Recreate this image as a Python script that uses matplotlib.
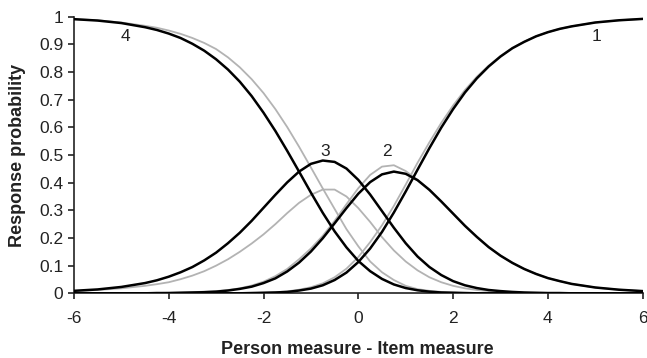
import matplotlib
matplotlib.use("Agg")
import matplotlib.pyplot as plt

plt.rcParams['font.family'] = ['Liberation Sans', 'DejaVu Sans']

# Person measure - Item measure
x = [-6, -5.5, -5, -4.5, -4.25, -4, -3.75, -3.5, -3.25, -3,
     -2.75, -2.5, -2.25, -2, -1.75, -1.5, -1.25, -1, -0.75, -0.5,
     -0.25, 0, 0.25, 0.5, 0.75, 1, 1.25, 1.5, 1.75, 2,
     2.25, 2.5, 2.75, 3, 3.25, 3.5, 3.75, 4, 4.25, 4.5,
     5, 5.5, 6]

# Model (black) category probability curves
model_cat4 = [0.991, 0.986, 0.977, 0.962, 0.952, 0.939, 0.923, 0.902, 0.877, 0.846,
              0.809, 0.765, 0.713, 0.653, 0.587, 0.515, 0.440, 0.364, 0.291, 0.224,
              0.166, 0.117, 0.080, 0.052, 0.032, 0.019, 0.011, 0.006, 0.003, 0.002,
              0.001, 0.000, 0.000, 0.000, 0.000, 0.000, 0.000, 0.000, 0.000, 0.000,
              0.000, 0.000, 0.000]
model_cat3 = [0.009, 0.014, 0.023, 0.037, 0.047, 0.060, 0.076, 0.095, 0.119, 0.147,
              0.181, 0.219, 0.262, 0.309, 0.356, 0.401, 0.440, 0.468, 0.480, 0.475,
              0.451, 0.410, 0.357, 0.297, 0.237, 0.181, 0.133, 0.095, 0.066, 0.044,
              0.029, 0.019, 0.012, 0.008, 0.005, 0.003, 0.002, 0.001, 0.001, 0.000,
              0.000, 0.000, 0.000]
model_cat2 = [0.000, 0.000, 0.000, 0.000, 0.001, 0.001, 0.002, 0.003, 0.004, 0.006,
              0.010, 0.016, 0.024, 0.037, 0.054, 0.079, 0.111, 0.151, 0.199, 0.253,
              0.308, 0.360, 0.402, 0.430, 0.440, 0.432, 0.409, 0.374, 0.332, 0.288,
              0.244, 0.204, 0.167, 0.136, 0.110, 0.088, 0.070, 0.055, 0.044, 0.034,
              0.021, 0.013, 0.008]
model_cat1 = [0.000, 0.000, 0.000, 0.000, 0.000, 0.000, 0.000, 0.000, 0.000, 0.000,
              0.000, 0.000, 0.001, 0.002, 0.003, 0.005, 0.010, 0.017, 0.029, 0.048,
              0.075, 0.113, 0.162, 0.222, 0.292, 0.368, 0.447, 0.525, 0.599, 0.666,
              0.726, 0.777, 0.820, 0.856, 0.886, 0.909, 0.929, 0.944, 0.956, 0.965,
              0.979, 0.987, 0.992]

# Observed / empirical (grey) category probability curves
obs_cat4 = [0.991, 0.987, 0.979, 0.967, 0.960, 0.950, 0.938, 0.923, 0.905, 0.883,
            0.853, 0.817, 0.774, 0.724, 0.666, 0.601, 0.530, 0.455, 0.379, 0.305,
            0.232, 0.170, 0.115, 0.076, 0.048, 0.027, 0.015, 0.009, 0.005, 0.003,
            0.001, 0.001, 0.000, 0.000, 0.000, 0.000, 0.000, 0.000, 0.000, 0.000,
            0.000, 0.000, 0.000]
obs_cat3 = [0.008, 0.012, 0.018, 0.027, 0.033, 0.040, 0.051, 0.064, 0.080, 0.100,
            0.123, 0.150, 0.180, 0.213, 0.250, 0.290, 0.327, 0.356, 0.375, 0.375,
            0.350, 0.308, 0.258, 0.203, 0.155, 0.115, 0.083, 0.058, 0.040, 0.027,
            0.018, 0.012, 0.008, 0.005, 0.003, 0.002, 0.001, 0.001, 0.000, 0.000,
            0.000, 0.000, 0.000]
obs_cat2 = [0.000, 0.000, 0.000, 0.001, 0.001, 0.002, 0.003, 0.004, 0.006, 0.008,
            0.012, 0.018, 0.028, 0.042, 0.062, 0.088, 0.123, 0.162, 0.208, 0.262,
            0.322, 0.380, 0.428, 0.458, 0.463, 0.442, 0.410, 0.374, 0.332, 0.288,
            0.244, 0.204, 0.167, 0.136, 0.110, 0.088, 0.070, 0.055, 0.044, 0.034,
            0.021, 0.013, 0.008]
obs_cat1 = [0.000, 0.000, 0.000, 0.000, 0.000, 0.000, 0.000, 0.000, 0.000, 0.000,
            0.000, 0.000, 0.001, 0.002, 0.004, 0.007, 0.013, 0.022, 0.036, 0.058,
            0.089, 0.131, 0.185, 0.246, 0.316, 0.393, 0.472, 0.546, 0.616, 0.679,
            0.735, 0.783, 0.823, 0.858, 0.887, 0.910, 0.929, 0.944, 0.956, 0.965,
            0.979, 0.987, 0.992]

cat_labels = ["4", "3", "2", "1"]
label_x = [-4.92, -0.70, 0.60, 5.03]
label_y = [0.928, 0.512, 0.512, 0.928]

x_ticks = [-6, -4, -2, 0, 2, 4, 6]
y_ticks = [0, 0.1, 0.2, 0.3, 0.4, 0.5, 0.6, 0.7, 0.8, 0.9, 1]
y_ticklabels = ["0", "0.1", "0.2", "0.3", "0.4", "0.5", "0.6", "0.7", "0.8", "0.9", "1"]

fig = plt.figure(figsize=(6.47, 3.58), dpi=100)
ax = fig.add_axes([0.1142, 0.1807, 0.8792, 0.7727])

grey = "#b3b3b3"
for ys in (obs_cat4, obs_cat3, obs_cat2, obs_cat1):
    ax.plot(x, ys, color=grey, lw=1.3, zorder=2, solid_joinstyle='round')
for ys in (model_cat4, model_cat3, model_cat2, model_cat1):
    ax.plot(x, ys, color="black", lw=1.8, zorder=3, solid_joinstyle='round')

for t, lx, ly in zip(cat_labels, label_x, label_y):
    ax.text(lx, ly, t, fontsize=12.5, ha='center', va='center', color='#222222')

ax.set_xlim(-6, 6)
ax.set_ylim(0, 1)
ax.set_xticks(x_ticks)
ax.set_xticklabels([str(v) for v in x_ticks])
ax.set_yticks(y_ticks)
ax.set_yticklabels(y_ticklabels)
for s in ("top", "right"):
    ax.spines[s].set_visible(False)
for s in ("left", "bottom"):
    ax.spines[s].set_linewidth(1.2)
    ax.spines[s].set_color("#222222")
ax.tick_params(axis='both', direction='out', length=4, width=1.2, color="#222222",
               labelsize=12.5, labelcolor="#222222")
ax.tick_params(axis='x', pad=9)
ax.tick_params(axis='y', pad=3.5)

fig.text(357 / 647, 4 / 358, "Person measure - Item measure", ha='center', va='baseline',
         fontsize=13, fontweight='bold', color='#222222')
fig.text(18 / 647, 1 - 155 / 358, "Response probability", ha='center', va='center',
         rotation=90, fontsize=13, fontweight='bold', color='#222222')

fig.savefig("out.png", dpi=100)
